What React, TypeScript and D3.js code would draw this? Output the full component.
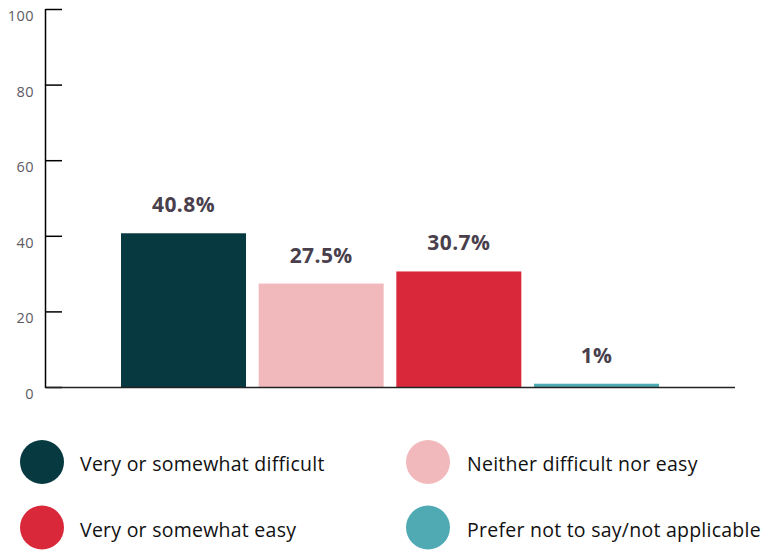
import React from "react";
import * as d3 from "d3";

const categories = [
  "Very or somewhat difficult",
  "Neither difficult nor easy",
  "Very or somewhat easy",
  "Prefer not to say/not applicable",
];
const values = [40.8, 27.5, 30.7, 1];
const valueLabels = ["40.8%", "27.5%", "30.7%", "1%"];
const colors = ["#073a40", "#f2b9bc", "#d9283a", "#50aab4"];
const yTicks = [0, 20, 40, 60, 80, 100];
const legendOrder = [0, 1, 2, 3];

const W = 767;
const H = 550;
const FONT = "'Open Sans', 'DejaVu Sans', sans-serif";

export default function App() {
  const y = d3.scaleLinear().domain([0, 100]).range([387.5, 9.5]);
  const x = d3
    .scaleBand<string>()
    .domain(categories)
    .range([121, 659])
    .paddingInner(0.092)
    .paddingOuter(0);
  const axisX = 45.5;

  const legendPos = [
    { cx: 42, cy: 462, tx: 80 },
    { cx: 428, cy: 462, tx: 467 },
    { cx: 42, cy: 527.5, tx: 80 },
    { cx: 428, cy: 527.5, tx: 467 },
  ];

  return (
    <svg
      width={W}
      height={H}
      style={{ position: "absolute", left: 0, top: 0, fontFamily: FONT }}
    >
      {categories.map((c, i) => (
        <rect
          key={c}
          x={x(c)}
          y={y(values[i])}
          width={x.bandwidth()}
          height={y(0) - y(values[i])}
          fill={colors[i]}
        />
      ))}
      {categories.map((c, i) => (
        <text
          key={"l" + c}
          x={(x(c) as number) + x.bandwidth() / 2}
          y={y(values[i]) - 21}
          textAnchor="middle"
          fontSize={21}
          fontWeight={700}
          letterSpacing={0.4}
          fill="#4a3f4d"
        >
          {valueLabels[i]}
        </text>
      ))}
      <line x1={axisX} x2={axisX} y1={y(100) - 0.5} y2={y(0) + 0.5} stroke="#000" strokeWidth={1.5} />
      {yTicks.map((t) => (
        <g key={t}>
          <line x1={axisX} x2={62} y1={y(t)} y2={y(t)} stroke="#000" strokeWidth={1.5} />
          <text
            x={34}
            y={y(t) + 11.5}
            textAnchor="end"
            fontSize={14.5}
            letterSpacing={0.5}
            fill="#605a63"
          >
            {t}
          </text>
        </g>
      ))}
      <line x1={axisX} x2={735} y1={y(0)} y2={y(0)} stroke="#222" strokeWidth={1.5} />
      {legendOrder.map((idx, k) => (
        <g key={"lg" + idx}>
          <circle cx={legendPos[k].cx} cy={legendPos[k].cy} r={22} fill={colors[idx]} />
          <text
            x={legendPos[k].tx}
            y={legendPos[k].cy + 9}
            fontSize={19.5}
            letterSpacing={0.25}
            fill="#111"
          >
            {categories[idx]}
          </text>
        </g>
      ))}
    </svg>
  );
}
